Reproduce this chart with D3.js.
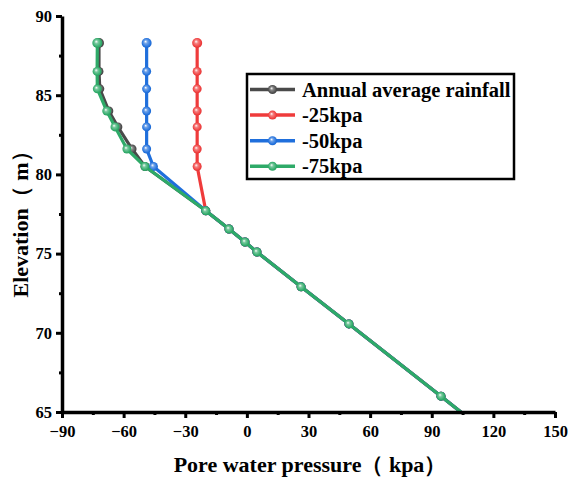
<!DOCTYPE html>
<html>
<head>
<meta charset="utf-8">
<script src="https://cdn.jsdelivr.net/npm/d3@7"></script>
<style>
  body { margin: 0; background: #fff; }
  svg text { font-family: "Liberation Serif", "Times New Roman", serif; font-weight: bold; }
</style>
</head>
<body>
<div id="chart"></div>
<script>
// elevation levels (m) of the upper points
const upperElev = [88.3, 86.5, 85.4, 84.0, 83.0, 81.6, 80.5];
// shared lower section: [pressure, elevation]
const lowerPts = [[-20, 77.7], [-8.7, 76.55], [-0.9, 75.73], [4.9, 75.1], [26.4, 72.9], [49.7, 70.56], [94.5, 66.0], [123.5, 63.0]];

const annualP = [-72.0, -72.0, -71.6, -67.2, -62.8, -55.9, -49.6];
const p25 = [-24.2, -24.2, -24.2, -24.2, -24.2, -24.2, -24.2];
const p50 = [-48.8, -48.8, -48.8, -48.8, -48.8, -48.8, -45.5];
const p75 = [-72.8, -72.9, -72.8, -68.2, -64.2, -58.4, -49.6];

const seriesNames = ["Annual average rainfall", "-25kpa", "-50kpa", "-75kpa"];
const seriesColors = ["#4a4a4a", "#ef3b3b", "#1f6fdc", "#2eaa68"];
const seriesUpper = [annualP, p25, p50, p75];

const xTicks = [-90, -60, -30, 0, 30, 60, 90, 120, 150];
const yTicks = [65, 70, 75, 80, 85, 90];

const W = 568, H = 479;
const margin = {top: 16, right: 13, bottom: 67, left: 62};

const svg = d3.select("#chart").append("svg")
    .attr("width", W)
    .attr("height", H);

const x = d3.scaleLinear().domain([-90, 150]).range([margin.left, W - margin.right]);
const y = d3.scaleLinear().domain([65, 90]).range([H - margin.bottom, margin.top]);

// gradients for shiny markers
const defs = svg.append("defs");
seriesColors.forEach((c, i) => {
    const g = defs.append("radialGradient")
        .attr("id", "grad" + i)
        .attr("cx", "0.5").attr("cy", "0.5").attr("r", "0.6")
        .attr("fx", "0.38").attr("fy", "0.35");
    g.append("stop").attr("offset", "0%").attr("stop-color", "#ffffff");
    g.append("stop").attr("offset", "30%").attr("stop-color", d3.interpolateRgb(c, "#fff")(0.35));
    g.append("stop").attr("offset", "75%").attr("stop-color", c);
    g.append("stop").attr("offset", "100%").attr("stop-color", d3.color(c).darker(0.4));
});

defs.append("clipPath").attr("id", "plotClip")
    .append("rect")
    .attr("x", margin.left).attr("y", margin.top - 10)
    .attr("width", W - margin.left - margin.right + 10)
    .attr("height", y(65) - margin.top + 10);

// build data
const series = seriesNames.map((name, i) => {
    const pts = upperElev.map((e, j) => [seriesUpper[i][j], e]).concat(lowerPts);
    return {name: name, color: seriesColors[i], idx: i, pts: pts};
});

const line = d3.line().x(d => x(d[0])).y(d => y(d[1]));

const plot = svg.append("g").attr("clip-path", "url(#plotClip)");

series.forEach(s => {
    const g = plot.append("g");
    g.append("path")
        .attr("d", line(s.pts))
        .attr("fill", "none")
        .attr("stroke", s.color)
        .attr("stroke-width", 3.2)
        .attr("stroke-linejoin", "round");
    g.selectAll("circle")
        .data(s.pts.filter(d => d[1] > 65))
        .enter()
        .append("circle")
        .attr("cx", d => x(d[0]))
        .attr("cy", d => y(d[1]))
        .attr("r", d => d[1] === 88.3 ? 5 : 4.5)
        .attr("fill", "url(#grad" + s.idx + ")");
});

// axes
const xAxis = svg.append("g")
    .attr("transform", "translate(0," + y(65) + ")");
xAxis.append("g")
    .call(d3.axisBottom(x).tickValues(d3.range(-75, 150, 30)).tickSize(3).tickFormat(""))
    .call(g => g.select(".domain").remove())
    .selectAll("line").attr("stroke-width", 3);
xAxis.append("g")
    .call(d3.axisBottom(x).tickValues(xTicks).tickSize(6).tickPadding(7).tickSizeOuter(0))
    .call(g => g.select(".domain").attr("stroke-width", 3.5))
    .call(g => g.selectAll("line").attr("stroke-width", 3))
    .call(g => g.selectAll("text").attr("font-size", 16.5).attr("fill", "#000")
        .style("font-family", "'Liberation Serif', serif").style("font-weight", "bold"));

const yAxis = svg.append("g")
    .attr("transform", "translate(" + x(-90) + ",0)");
yAxis.append("g")
    .call(d3.axisLeft(y).tickValues(d3.range(67.5, 90, 5)).tickSize(3).tickFormat(""))
    .call(g => g.select(".domain").remove())
    .selectAll("line").attr("stroke-width", 3);
yAxis.append("g")
    .call(d3.axisLeft(y).tickValues(yTicks).tickSize(6).tickPadding(4).tickSizeOuter(0))
    .call(g => g.select(".domain").attr("stroke-width", 3.5))
    .call(g => g.selectAll("line").attr("stroke-width", 3))
    .call(g => g.selectAll("text").attr("font-size", 16.5).attr("fill", "#000")
        .style("font-family", "'Liberation Serif', serif").style("font-weight", "bold"));

// axis titles
svg.append("text")
    .attr("x", 310)
    .attr("y", 472)
    .attr("text-anchor", "middle")
    .attr("font-size", 22)
    .text("Pore water pressure（ kpa）");

svg.append("text")
    .attr("transform", "translate(28,219) rotate(-90)")
    .attr("text-anchor", "middle")
    .attr("font-size", 22)
    .text("Elevation（ m）");

// legend
const legend = svg.append("g").attr("transform", "translate(247,74)");
legend.append("rect")
    .attr("width", 267)
    .attr("height", 105)
    .attr("fill", "#fff")
    .attr("stroke", "#000")
    .attr("stroke-width", 2.5);

series.forEach((s, i) => {
    const row = legend.append("g").attr("transform", "translate(0," + (15.5 + i * 25.6) + ")");
    row.append("line")
        .attr("x1", 3).attr("x2", 48)
        .attr("stroke", s.color)
        .attr("stroke-width", 3.5);
    row.append("circle")
        .attr("cx", 25.5).attr("r", 4.5)
        .attr("fill", "url(#grad" + i + ")");
    row.append("text")
        .attr("x", 55)
        .attr("y", 7)
        .attr("font-size", 20.5)
        .text(s.name);
});
</script>
</body>
</html>
